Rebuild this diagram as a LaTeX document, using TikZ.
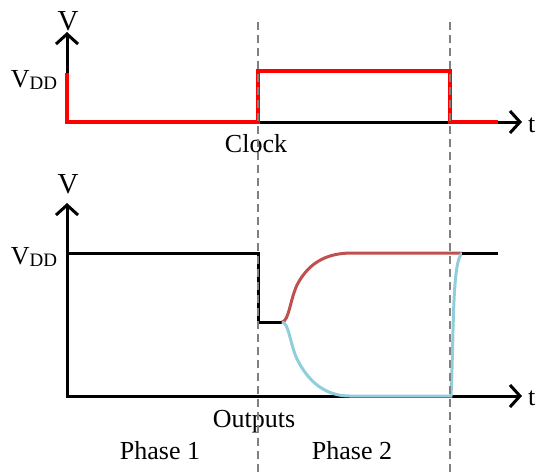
\documentclass[tikz,border=0pt]{standalone}
\usepackage{fontspec}
\setmainfont{Liberation Serif}
\usepackage{tikz}
\usetikzlibrary{arrows.meta}
\definecolor{clockred}{HTML}{FF0000}
\definecolor{outred}{HTML}{C0504D}
\definecolor{outblue}{HTML}{92CDDC}
\newcommand{\vdd}{V\raisebox{-2pt}{\fontsize{19}{19}\selectfont DD}}
\begin{document}
\begin{tikzpicture}[x=1pt,y=-1pt,>={Straight Barb[length=10pt,width=22pt]},
    lbl/.style={inner sep=0pt,outer sep=0pt,font=\fontsize{26}{30}\selectfont},
    axis/.style={line width=3pt,black},
    phase/.style={gray,dashed,line width=1.6pt,dash pattern=on 8pt off 5pt}]
  \useasboundingbox (0,0) rectangle (537,472);
  % clock
  \coordinate (c0) at (67,122);
  \draw[axis,<->] (67,32) -- (c0) -- (522,122);
  \draw[line width=3.4pt,clockred] (67,73) -- (c0) -- (258,122) -- (258,71)
    -- (450,71) -- (450,122) -- (498,122);
  \node[lbl,anchor=base,font=\fontsize{29}{30}\selectfont] (v1) at (68,30) {V};
  \node[lbl,anchor=base east] (vdd1) at (57,87) {\vdd};
  \node[lbl,anchor=base west] (t1) at (528,132) {t};
  \node[lbl,anchor=base] (clk) at (256,152) {Clock};
  % outputs
  \coordinate (o0) at (67,396);
  \coordinate (split) at (282,322);
  \draw[axis,<->] (67,203) -- (o0) -- (522,396);
  \draw[line width=3pt] (67,253) -- (258,253) -- (258,322) -- (split);
  \draw[line width=3pt,outred] (split) .. controls (289,321) and (290,300) .. (297,285)
    .. controls (310,260) and (330,253) .. (352,253) -- (462,253);
  \draw[line width=3pt,outblue] (split) .. controls (289,323) and (290,344) .. (297,359)
    .. controls (310,385) and (328,396) .. (350,396) -- (451,396)
    .. controls (454,330) and (452,263) .. (462,253);
  \draw[line width=3pt] (462,253) -- (498,253);
  \node[lbl,anchor=base,font=\fontsize{29}{30}\selectfont] (v2) at (68,193) {V};
  \node[lbl,anchor=base east] (vdd2) at (57,264) {\vdd};
  \node[lbl,anchor=base west] (t2) at (528,405) {t};
  \node[lbl,anchor=base] (outs) at (254,427) {Outputs};
  \node[lbl,anchor=base] (ph1) at (160,459) {Phase 1};
  \node[lbl,anchor=base] (ph2) at (352,459) {Phase 2};
  % phase borders
  \draw[phase] (258,22) -- (258,472);
  \draw[phase] (450,22) -- (450,472);
\end{tikzpicture}
\end{document}
